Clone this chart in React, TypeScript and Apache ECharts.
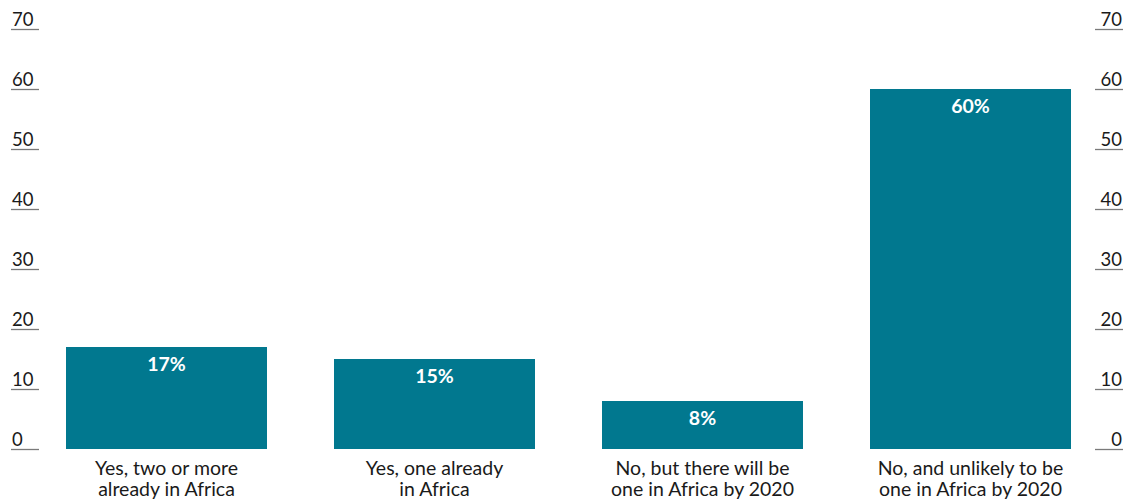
import React, { useEffect, useRef } from "react";
import * as echarts from "echarts";

const categories = [
  "Yes, two or more\nalready in Africa",
  "Yes, one already\nin Africa",
  "No, but there will be\none in Africa by 2020",
  "No, and unlikely to be\none in Africa by 2020",
];
const values = [17, 15, 8, 60];
const axisMin = 0;
const axisMax = 70;
const axisStep = 10;

const FONT = "Lato";
const BAR = "#01788f";
const TEXT = "#1a1a1a";
const TICK = "#7a7a7a";

export default function App() {
  const ref = useRef<HTMLDivElement>(null);
  useEffect(() => {
    if (!ref.current) return;
    const chart = echarts.init(ref.current, null, { renderer: "svg" });
    const yCommon = {
      type: "value" as const,
      min: axisMin,
      max: axisMax,
      interval: axisStep,
      axisLine: { show: false },
      splitLine: { show: false },
      axisTick: { show: true, length: 28, lineStyle: { color: TICK, width: 1.3 } },
    };
    chart.setOption({
      animation: false,
      textStyle: { fontFamily: FONT },
      grid: { left: 32.5, right: 33.5, top: 29, bottom: 52, containLabel: false },
      xAxis: {
        type: "category",
        data: categories,
        axisLine: { show: false },
        axisTick: { show: false },
        axisLabel: {
          color: TEXT,
          fontFamily: FONT,
          fontSize: 19.5,
          lineHeight: 21,
          margin: 8,
          interval: 0,
        },
      },
      yAxis: [
        {
          ...yCommon,
          position: "left",
          offset: -6.5,
          axisLabel: {
            color: TEXT,
            fontFamily: FONT,
            fontSize: 18.5,
            align: "left",
            verticalAlign: "bottom",
            margin: 27,
            padding: [0, 0, 1, 0],
          },
        },
        {
          ...yCommon,
          position: "right",
          offset: -9.5,
          axisLabel: {
            color: TEXT,
            fontFamily: FONT,
            fontSize: 18.5,
            align: "right",
            verticalAlign: "bottom",
            margin: 27,
            padding: [0, 0, 1, 0],
          },
        },
      ],
      series: [
        {
          type: "bar",
          data: values,
          barWidth: 201,
          itemStyle: { color: BAR },
          label: {
            show: true,
            position: "insideTop",
            distance: 6,
            color: "#ffffff",
            fontFamily: FONT,
            fontWeight: "bold",
            fontSize: 19.5,
            formatter: (p: any) => p.value + "%",
          },
        },
      ],
    });
    return () => chart.dispose();
  }, []);
  return <div ref={ref} style={{ width: 1138, height: 501, position: "absolute", left: 0, top: 0 }} />;
}
